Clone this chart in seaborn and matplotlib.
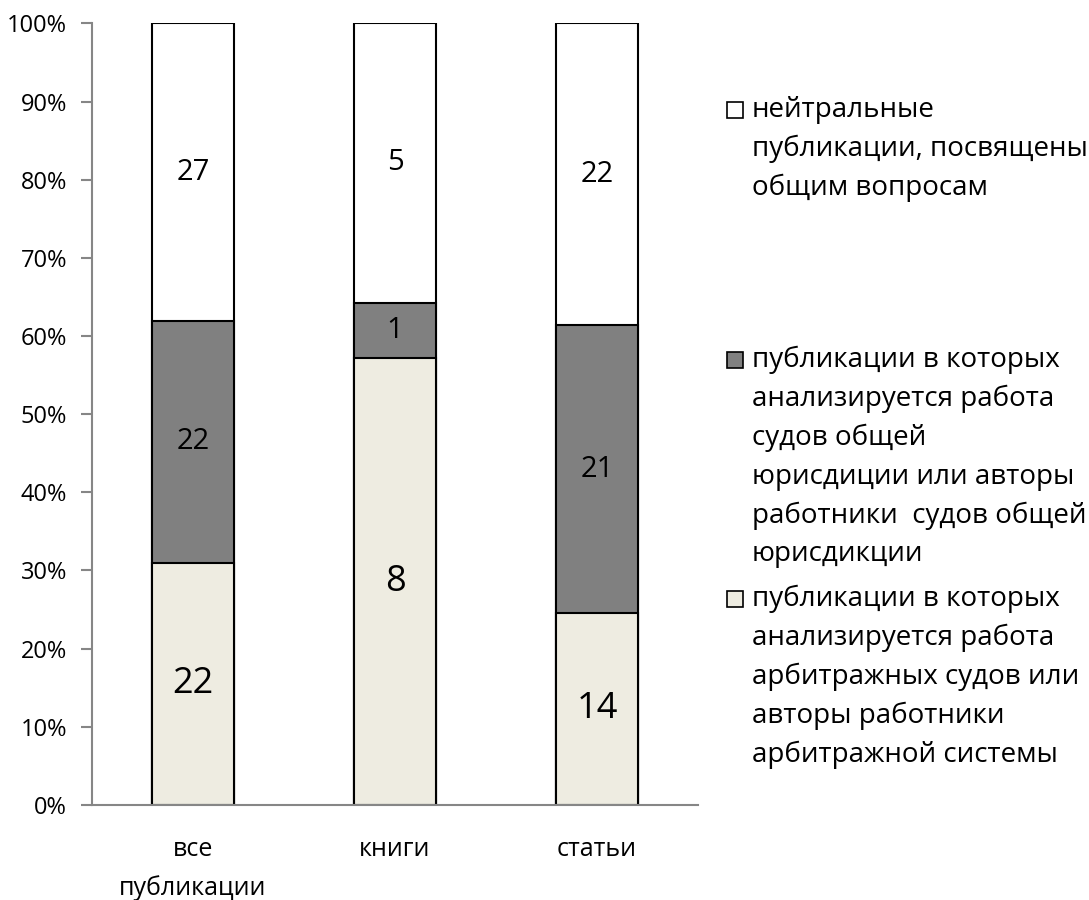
import numpy as np
import pandas as pd
import matplotlib
matplotlib.use("Agg")
import matplotlib.pyplot as plt
from matplotlib.patches import Rectangle
import seaborn as sns

CATEGORIES = ["все\nпубликации", "книги", "статьи"]
ARBITR = [22, 8, 14]       # bottom segment
GENERAL = [22, 1, 21]      # middle segment
NEUTRAL = [27, 5, 22]      # top segment

LEGEND_LABELS = [
    "нейтральные\nпубликации, посвящены\nобщим вопросам",
    "публикации в которых\nанализируется работа\nсудов общей\nюрисдиции или авторы\nработники  судов общей\nюрисдикции",
    "публикации в которых\nанализируется работа\nарбитражных судов или\nавторы работники\nарбитражной системы",
]
COLORS = ["#FFFFFF", "#808080", "#EEECE1"]

sns.set_theme(style="white")
plt.rcParams["font.family"] = ["Open Sans", "DejaVu Sans"]
plt.rcParams["text.color"] = "black"
plt.rcParams["xtick.color"] = "black"
plt.rcParams["ytick.color"] = "black"

df = pd.DataFrame({
    "category": CATEGORIES,
    "arbitr": ARBITR,
    "general": GENERAL,
    "neutral": NEUTRAL,
})
df["total"] = df[["arbitr", "general", "neutral"]].sum(axis=1)
df["cum1"] = df["arbitr"] / df["total"] * 100
df["cum2"] = (df["arbitr"] + df["general"]) / df["total"] * 100
df["cum3"] = 100.0

fig = plt.figure(figsize=(10.89, 9), dpi=100)
ax = fig.add_axes([0.0845, 0.1056, 0.5565, 0.8684])

# stacked by overlaying cumulative bars
for col, color in [("cum3", COLORS[0]), ("cum2", COLORS[1]), ("cum1", COLORS[2])]:
    sns.barplot(data=df, x="category", y=col, color=color, width=0.41,
                edgecolor="black", linewidth=1.5, saturation=1, ax=ax)

# segment labels
for i, row in df.iterrows():
    ax.text(i, row["cum1"] / 2, str(row["arbitr"]), ha="center", va="center", fontsize=26)
    ax.text(i, (row["cum1"] + row["cum2"]) / 2, str(row["general"]), ha="center", va="center", fontsize=21)
    ax.text(i, (row["cum2"] + row["cum3"]) / 2, str(row["neutral"]), ha="center", va="center", fontsize=21)

ax.set_ylim(0, 100)
ax.set_xlim(-0.5, 2.5)
ax.set_yticks(np.arange(0, 101, 10))
ax.set_yticklabels([f"{v}%" for v in range(0, 101, 10)], fontsize=17)
ax.set_xticks([0, 1, 2])
ax.set_xticklabels(CATEGORIES, fontsize=18, linespacing=1.65, va="top")
ax.set_xticks([-0.5, 0.5, 1.5, 2.5], minor=True)
ax.tick_params(axis="x", which="major", length=0, pad=23)
ax.tick_params(axis="x", which="minor", length=9, color="#868686", width=1.5, direction="out")
ax.tick_params(axis="y", length=8, color="#868686", width=1.5, direction="out", left=True, pad=10)
ax.set_xlabel("")
ax.set_ylabel("")
for side in ["top", "right"]:
    ax.spines[side].set_visible(False)
for side in ["left", "bottom"]:
    ax.spines[side].set_color("#868686")
    ax.spines[side].set_linewidth(1.5)

# legend entries: marker aligned to the first text line, as in the original
W, H = 1089, 900
legend_y = [110, 360, 599]  # pixel centre of each entry's first line
box = 16
for label, color, ypx in zip(LEGEND_LABELS, COLORS, legend_y):
    fig.patches.append(Rectangle((727 / W, (H - ypx - box / 2) / H), box / W, box / H,
                                 transform=fig.transFigure, facecolor=color,
                                 edgecolor="black", linewidth=1.2))
    fig.text(752 / W, (H - ypx + 14) / H, label, fontsize=20, ha="left", va="top",
             linespacing=1.5)

fig.savefig("out.png", dpi=100)
